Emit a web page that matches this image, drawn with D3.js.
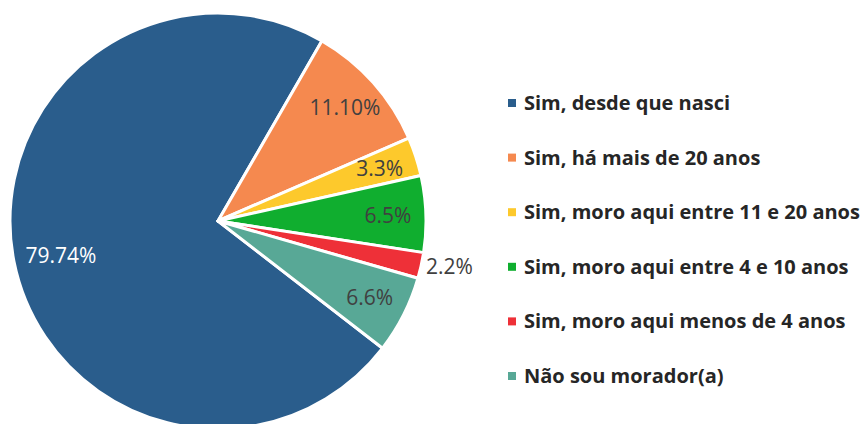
<!DOCTYPE html>
<html lang="pt">
<head>
<meta charset="UTF-8">
<title>Pie</title>
<script src="https://d3js.org/d3.v7.min.js"></script>
<style>
  body { margin: 0; background: #fff; }
  svg { display: block; }
  .slice-label { font-family: 'Open Sans', sans-serif; font-size: 21px; fill: #404040; }
  .legend-text { font-family: 'Open Sans', sans-serif; font-size: 20px; font-weight: bold; fill: #262626; }
</style>
</head>
<body>
<svg width="864" height="424"></svg>
<script>
const categories = [
  "Sim, desde que nasci",
  "Sim, há mais de 20 anos",
  "Sim, moro aqui entre 11 e 20 anos",
  "Sim, moro aqui entre 4 e 10 anos",
  "Sim, moro aqui menos de 4 anos",
  "Não sou morador(a)"
];
const values = [79.74, 11.10, 3.3, 6.5, 2.2, 6.6];
const labels = ["79.74%", "11.10%", "3.3%", "6.5%", "2.2%", "6.6%"];
const colors = ["#2a5d8c", "#f5894f", "#fdc92c", "#10ae2f", "#ee3038", "#58a896"];

const svg = d3.select("svg");
const cx = 218, cy = 221, R = 208;

const total = d3.sum(values);
// first slice ends 30 degrees clockwise from the top
const start = Math.PI / 6 - 2 * Math.PI * values[0] / total;

const pie = d3.pie().sort(null).value(d => d)
  .startAngle(start).endAngle(start + 2 * Math.PI);
const arcs = pie(values);

const arc = d3.arc().innerRadius(0).outerRadius(R);
const labelArc = d3.arc().innerRadius(170).outerRadius(170);
const bigLabelArc = d3.arc().innerRadius(160).outerRadius(160);

const g = svg.append("g").attr("transform", `translate(${cx},${cy})`);

g.selectAll("path.slice")
  .data(arcs)
  .join("path")
  .attr("class", "slice")
  .attr("d", arc)
  .attr("fill", (d, i) => colors[i])
  .attr("stroke", "#fff")
  .attr("stroke-width", 3)
  .attr("stroke-linejoin", "round");

g.selectAll("text.slice-label")
  .data(arcs)
  .join("text")
  .attr("class", "slice-label")
  .each(function(d, i) {
    const t = d3.select(this);
    const span = d.endAngle - d.startAngle;
    if (i === 0) {
      const [x, y] = bigLabelArc.centroid(d);
      t.attr("x", x).attr("y", y + 4).attr("text-anchor", "middle").attr("dy", "0.35em").style("fill", "#fff");
    } else if (span < 0.15) {
      const a = (d.startAngle + d.endAngle) / 2;
      t.attr("x", Math.sin(a) * (R + 5)).attr("y", -Math.cos(a) * (R + 5))
        .attr("text-anchor", "start").attr("dy", "0.35em");
    } else {
      const [x, y] = labelArc.centroid(d);
      t.attr("x", x).attr("y", y).attr("text-anchor", "middle").attr("dy", "0.35em");
    }
  })
  .text((d, i) => labels[i]);

const legend = svg.append("g").attr("transform", "translate(508,103)");
const rowGap = 54.6;
const item = legend.selectAll("g.item")
  .data(categories)
  .join("g")
  .attr("class", "item")
  .attr("transform", (d, i) => `translate(0,${i * rowGap})`);

item.append("rect")
  .attr("x", 0).attr("y", -4)
  .attr("width", 8).attr("height", 8)
  .attr("fill", (d, i) => colors[i]);

item.append("text")
  .attr("class", "legend-text")
  .attr("x", 16)
  .attr("dy", "0.35em")
  .text(d => d);
</script>
</body>
</html>
